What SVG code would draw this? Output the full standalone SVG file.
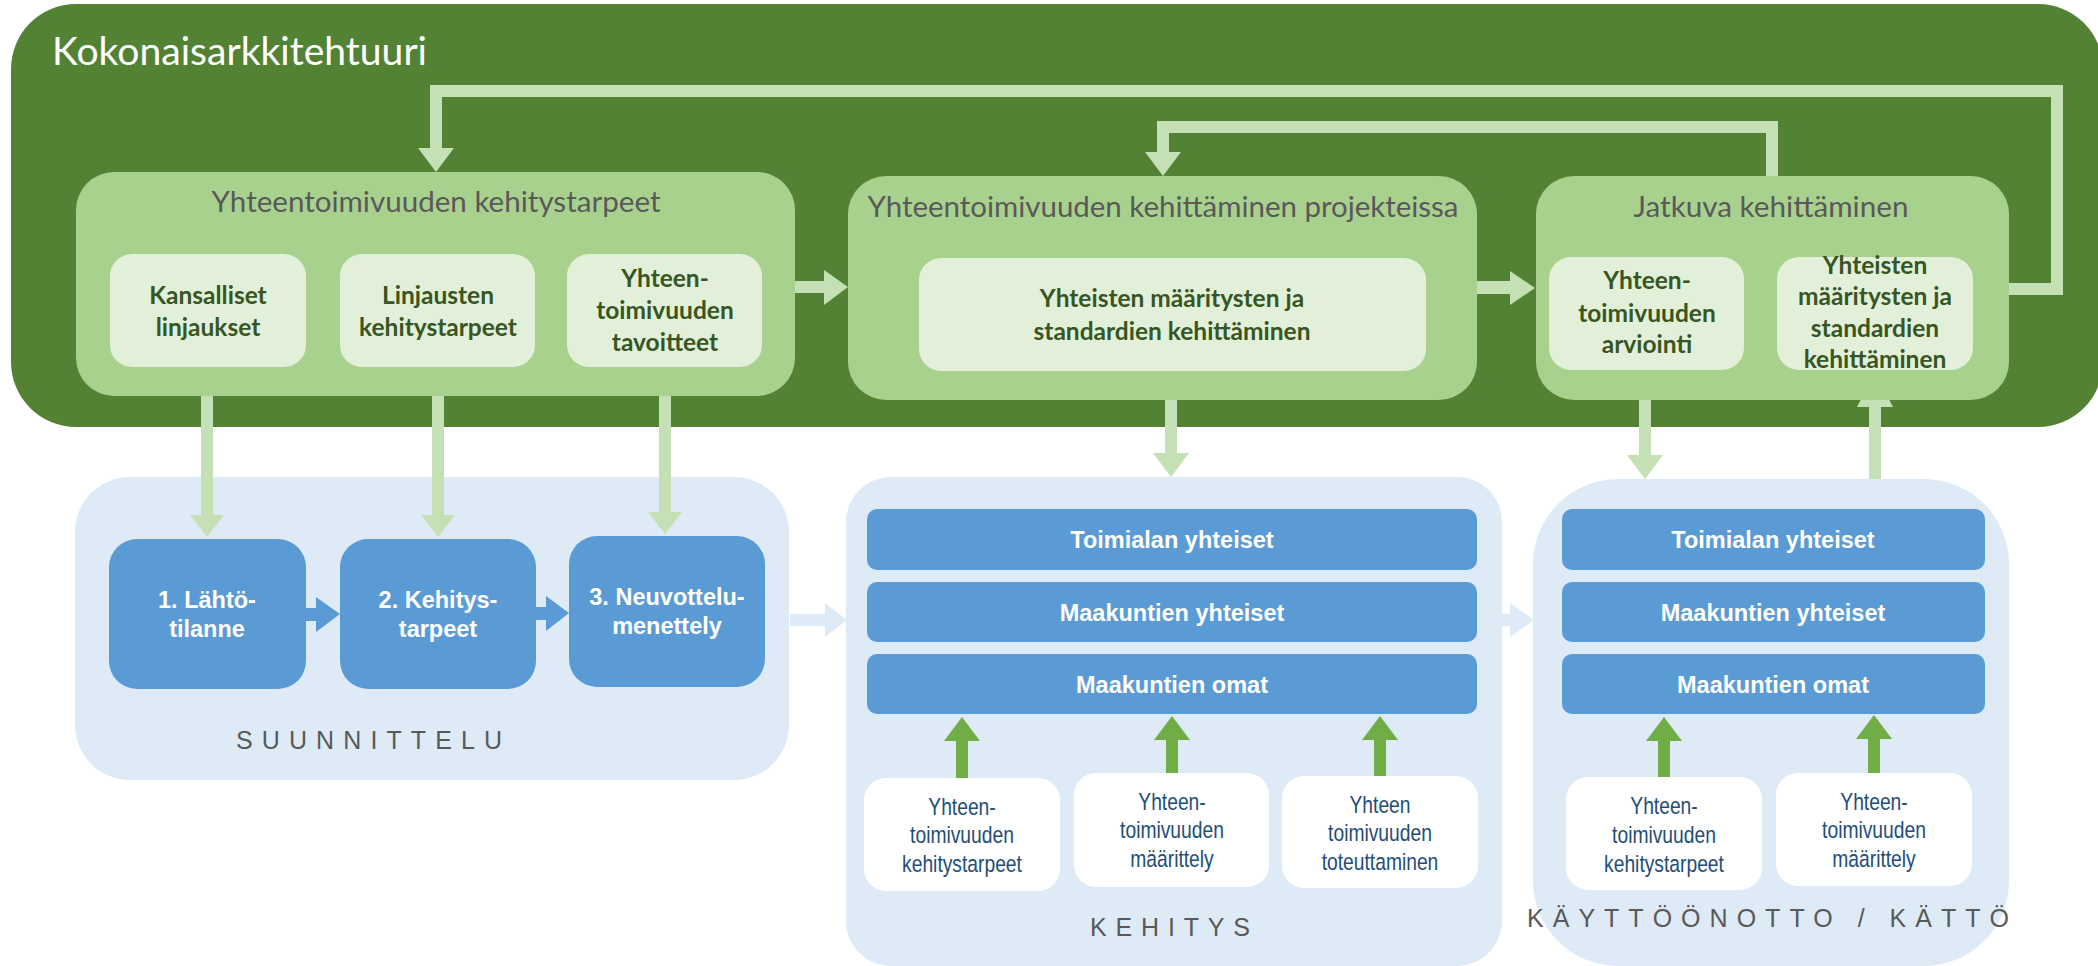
<svg xmlns="http://www.w3.org/2000/svg" width="2098" height="966" viewBox="0 0 2098 966">
<style>
.ttl{font-family:Lato,'Open Sans',sans-serif;fill:#595959;font-size:29px;text-anchor:middle}
.inb{font-family:Lato,'Open Sans',sans-serif;font-weight:700;fill:#375623;font-size:24.5px;text-anchor:middle}
.blu{font-family:'Liberation Sans',Arial,sans-serif;font-weight:700;fill:#ffffff;font-size:23.5px;text-anchor:middle}
.wht{font-family:'Liberation Sans',Arial,sans-serif;fill:#1f4e79;font-size:23.5px;text-anchor:middle}
.lbl{font-family:'Liberation Sans',Arial,sans-serif;fill:#595959;font-size:25px}
.grpA{fill:#a9d18e}
.inn{fill:#e2f0d9}
.cont{fill:#deebf7}
.bbox{fill:#5b9bd5}
.wbox{fill:#ffffff}
.fb{fill:none;stroke:#c5e0b4;stroke-width:12}
.lg{fill:#c5e0b4}
.dg{fill:#70ad47}
.bl{fill:#5b9bd5}
.lb{fill:#deebf7}
</style>

<g id="kokonaisarkkitehtuuri">
  <rect x="11" y="4" width="2092" height="423" rx="65" fill="#548235"/>
  <text x="52" y="65" font-family="Lato,'Open Sans',sans-serif" font-size="38" fill="#ffffff" textLength="375" lengthAdjust="spacingAndGlyphs">Kokonaisarkkitehtuuri</text>
</g>

<g id="lower-containers">
  <g id="suunnittelu">
    <rect class="cont" x="75" y="477" width="714" height="303" rx="55"/>
    <text class="lbl" x="236" y="749" textLength="266" lengthAdjust="spacing">SUUNNITTELU</text>
  </g>
  <g id="kehitys">
    <rect class="cont" x="846" y="477" width="656" height="489" rx="45"/>
    <text class="lbl" x="1090" y="936" textLength="160" lengthAdjust="spacing">KEHITYS</text>
  </g>
  <g id="kayttoonotto">
    <rect class="cont" x="1533" y="479" width="476" height="487" rx="85"/>
    <text class="lbl" x="1527" y="927" textLength="482" lengthAdjust="spacing">KÄYTTÖÖNOTTO / KÄTTÖ</text>
  </g>
</g>

<g id="connectors">
  <!-- feedback loops -->
  <path class="fb" d="M2009,289 H2057 V91 H436 V150"/>
  <polygon class="lg" points="418,148 454,148 436,172"/>
  <path class="fb" d="M1772,176 V127 H1163 V154"/>
  <polygon class="lg" points="1145,152 1181,152 1163,176"/>
  <!-- group to group arrows -->
  <polygon class="lg" points="795,281 824,281 824,270 848,287 824,305 824,293 795,293"/>
  <polygon class="lg" points="1477,281 1510,281 1510,271 1535,288 1510,305 1510,294 1477,294"/>
  <!-- down arrows to suunnittelu -->
  <rect class="lg" x="201" y="367" width="12" height="150"/>
  <polygon class="lg" points="190,515 224,515 207,537"/>
  <rect class="lg" x="432" y="367" width="12" height="150"/>
  <polygon class="lg" points="421,515 455,515 438,537"/>
  <rect class="lg" x="659" y="367" width="12" height="147"/>
  <polygon class="lg" points="648,512 682,512 665,534"/>
  <!-- down to kehitys -->
  <rect class="lg" x="1165" y="371" width="12" height="84"/>
  <polygon class="lg" points="1153,453 1189,453 1171,477"/>
  <!-- down to kayttoonotto -->
  <rect class="lg" x="1639" y="370" width="12" height="87"/>
  <polygon class="lg" points="1627,455 1663,455 1645,479"/>
  <!-- up from kayttoonotto -->
  <rect class="lg" x="1869" y="405" width="12" height="74"/>
  <polygon class="lg" points="1857,407 1893,407 1875,372"/>
  <!-- blue arrows in suunnittelu -->
  <polygon class="bl" points="306,608 316,608 316,597 340,614 316,632 316,621 306,621"/>
  <polygon class="bl" points="536,607 546,607 546,596 569,613 546,631 546,620 536,620"/>
  <!-- phase arrows -->
  <polygon class="lb" points="790,614 825,614 825,603 847,620 825,637 825,626 790,626"/>
  <polygon class="lb" points="1502,614 1510,614 1510,603 1534,620 1510,637 1510,626 1502,626"/>
  <!-- green up arrows -->
  <rect class="dg" x="956" y="739" width="12" height="39"/>
  <polygon class="dg" points="944,741 980,741 962,717"/>
  <rect class="dg" x="1166" y="738" width="12" height="36"/>
  <polygon class="dg" points="1154,740 1190,740 1172,716"/>
  <rect class="dg" x="1374" y="738" width="12" height="39"/>
  <polygon class="dg" points="1362,740 1398,740 1380,716"/>
  <rect class="dg" x="1658" y="739" width="12" height="39"/>
  <polygon class="dg" points="1646,741 1682,741 1664,717"/>
  <rect class="dg" x="1868" y="737" width="12" height="37"/>
  <polygon class="dg" points="1856,739 1892,739 1874,715"/>
</g>

<g id="kehitystarpeet">
  <rect class="grpA" x="76" y="172" width="719" height="224" rx="38"/>
  <text class="ttl" x="436" y="212" textLength="449" lengthAdjust="spacingAndGlyphs">Yhteentoimivuuden kehitystarpeet</text>
</g>
<g id="kansalliset-linjaukset">
  <rect class="inn" x="110" y="254" width="196" height="113" rx="22"/>
  <text class="inb"><tspan x="208" y="304">Kansalliset</tspan><tspan x="208" y="336">linjaukset</tspan></text>
</g>
<g id="linjausten-kehitystarpeet">
  <rect class="inn" x="340" y="254" width="195" height="113" rx="22"/>
  <text class="inb"><tspan x="438" y="304">Linjausten</tspan><tspan x="438" y="336">kehitystarpeet</tspan></text>
</g>
<g id="yhteentoimivuuden-tavoitteet">
  <rect class="inn" x="567" y="254" width="195" height="113" rx="22"/>
  <text class="inb"><tspan x="665" y="287">Yhteen-</tspan><tspan x="665" y="319">toimivuuden</tspan><tspan x="665" y="351">tavoitteet</tspan></text>
</g>

<g id="kehittaminen-projekteissa">
  <rect class="grpA" x="848" y="176" width="629" height="224" rx="38"/>
  <text class="ttl" x="1163" y="217" textLength="591" lengthAdjust="spacingAndGlyphs">Yhteentoimivuuden kehittäminen projekteissa</text>
</g>
<g id="maaritysten-kehittaminen-b">
  <rect class="inn" x="919" y="258" width="507" height="113" rx="22"/>
  <text class="inb"><tspan x="1172" y="307">Yhteisten määritysten ja</tspan><tspan x="1172" y="340">standardien kehittäminen</tspan></text>
</g>

<g id="jatkuva-kehittaminen">
  <rect class="grpA" x="1536" y="176" width="473" height="224" rx="38"/>
  <text class="ttl" x="1771" y="217" textLength="275" lengthAdjust="spacingAndGlyphs">Jatkuva kehittäminen</text>
</g>
<g id="arviointi">
  <rect class="inn" x="1549" y="257" width="195" height="113" rx="22"/>
  <text class="inb"><tspan x="1647" y="289">Yhteen-</tspan><tspan x="1647" y="322">toimivuuden</tspan><tspan x="1647" y="353">arviointi</tspan></text>
</g>
<g id="maaritysten-kehittaminen-c">
  <rect class="inn" x="1777" y="257" width="196" height="113" rx="22"/>
  <text class="inb"><tspan x="1875" y="274">Yhteisten</tspan><tspan x="1875" y="305">määritysten ja</tspan><tspan x="1875" y="337">standardien</tspan><tspan x="1875" y="368">kehittäminen</tspan></text>
</g>

<g id="lahtotilanne">
  <rect class="bbox" x="109" y="539" width="197" height="150" rx="28"/>
  <text class="blu"><tspan x="207" y="608">1. Lähtö-</tspan><tspan x="207" y="637">tilanne</tspan></text>
</g>
<g id="kehitystarpeet-2">
  <rect class="bbox" x="340" y="539" width="196" height="150" rx="28"/>
  <text class="blu"><tspan x="438" y="608">2. Kehitys-</tspan><tspan x="438" y="637">tarpeet</tspan></text>
</g>
<g id="neuvottelumenettely">
  <rect class="bbox" x="569" y="536" width="196" height="151" rx="28"/>
  <text class="blu"><tspan x="667" y="605">3. Neuvottelu-</tspan><tspan x="667" y="634">menettely</tspan></text>
</g>

<g id="k-toimialan"><rect class="bbox" x="867" y="509" width="610" height="61" rx="10"/><text class="blu" x="1172" y="548">Toimialan yhteiset</text></g>
<g id="k-maakuntien-yhteiset"><rect class="bbox" x="867" y="582" width="610" height="60" rx="10"/><text class="blu" x="1172" y="621">Maakuntien yhteiset</text></g>
<g id="k-maakuntien-omat"><rect class="bbox" x="867" y="654" width="610" height="60" rx="10"/><text class="blu" x="1172" y="693">Maakuntien omat</text></g>

<g id="k-kehitystarpeet">
  <rect class="wbox" x="864" y="778" width="196" height="113" rx="22"/>
  <text class="wht" transform="translate(962 0) scale(0.82 1)"><tspan x="0" y="815">Yhteen-</tspan><tspan x="0" y="843">toimivuuden</tspan><tspan x="0" y="872">kehitystarpeet</tspan></text>
</g>
<g id="k-maarittely">
  <rect class="wbox" x="1074" y="773" width="195" height="114" rx="22"/>
  <text class="wht" transform="translate(1172 0) scale(0.82 1)"><tspan x="0" y="810">Yhteen-</tspan><tspan x="0" y="838">toimivuuden</tspan><tspan x="0" y="867">määrittely</tspan></text>
</g>
<g id="k-toteuttaminen">
  <rect class="wbox" x="1282" y="776" width="196" height="112" rx="22"/>
  <text class="wht" transform="translate(1380 0) scale(0.82 1)"><tspan x="0" y="813">Yhteen</tspan><tspan x="0" y="841">toimivuuden</tspan><tspan x="0" y="870">toteuttaminen</tspan></text>
</g>

<g id="ko-toimialan"><rect class="bbox" x="1562" y="509" width="423" height="61" rx="10"/><text class="blu" x="1773" y="548">Toimialan yhteiset</text></g>
<g id="ko-maakuntien-yhteiset"><rect class="bbox" x="1562" y="582" width="423" height="60" rx="10"/><text class="blu" x="1773" y="621">Maakuntien yhteiset</text></g>
<g id="ko-maakuntien-omat"><rect class="bbox" x="1562" y="654" width="423" height="60" rx="10"/><text class="blu" x="1773" y="693">Maakuntien omat</text></g>

<g id="ko-kehitystarpeet">
  <rect class="wbox" x="1566" y="777" width="196" height="113" rx="22"/>
  <text class="wht" transform="translate(1664 0) scale(0.82 1)"><tspan x="0" y="814">Yhteen-</tspan><tspan x="0" y="843">toimivuuden</tspan><tspan x="0" y="872">kehitystarpeet</tspan></text>
</g>
<g id="ko-maarittely">
  <rect class="wbox" x="1776" y="773" width="196" height="113" rx="22"/>
  <text class="wht" transform="translate(1874 0) scale(0.82 1)"><tspan x="0" y="810">Yhteen-</tspan><tspan x="0" y="838">toimivuuden</tspan><tspan x="0" y="867">määrittely</tspan></text>
</g>
</svg>
